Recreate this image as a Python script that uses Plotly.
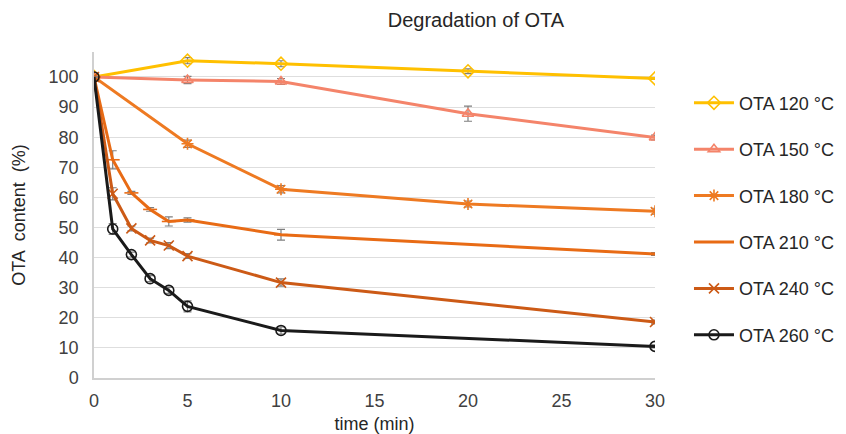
import plotly.graph_objects as go

x_short = [0, 5, 10, 20, 30]
x_long = [0, 1, 2, 3, 4, 5, 10, 30]

y120 = [100, 105.4, 104.4, 101.9, 99.5]
e120 = [0, 1.0, 1.0, 0.8, 0.3]
y150 = [100, 99.0, 98.5, 87.8, 79.9]
e150 = [0, 1.2, 1.0, 2.5, 0.8]
y180 = [100, 77.8, 62.7, 57.8, 55.4]
e180 = [0, 1.2, 1.2, 1.0, 1.0]
y210 = [100, 72.5, 61.5, 56.0, 52.0, 52.5, 47.6, 41.2]
e210 = [0, 3.0, 0.5, 0.6, 1.5, 0.7, 1.8, 0.5]
y240 = [100, 61.2, 49.7, 45.7, 44.0, 40.5, 31.7, 18.6]
e240 = [0, 2.0, 0.8, 0.8, 1.0, 0.8, 1.2, 0.6]
y260 = [100, 49.5, 41.0, 33.0, 29.1, 23.8, 15.8, 10.5]
e260 = [0, 1.8, 0.8, 1.0, 1.0, 1.8, 1.2, 0.5]

series = [
    ("OTA 120 °C", x_short, y120, e120, "#FFC000", "diamond-open"),
    ("OTA 150 °C", x_short, y150, e150, "#F4846A", "triangle-up-open"),
    ("OTA 180 °C", x_short, y180, e180, "#EE7A22", "asterisk-open"),
    ("OTA 210 °C", x_long, y210, e210, "#E86B15", "line-ew-open"),
    ("OTA 240 °C", x_long, y240, e240, "#CC5A16", "x-thin-open"),
    ("OTA 260 °C", x_long, y260, e260, "#1A1A1A", "circle-open"),
]

fig = go.Figure()
for i, (name, xs, ys, es, col, sym) in enumerate(series):
    fig.add_trace(go.Scatter(
        x=xs, y=ys, name=name, mode="lines+markers",
        legendgroup=f"g{i}",
        line=dict(color=col, width=3),
        marker=dict(symbol=sym, size=10, color=col, line=dict(color=col, width=1.6)),
        error_y=dict(type="data", array=es, visible=True, color="#7f7f7f",
                     thickness=1.2, width=4),
    ))

fig.update_layout(
    width=846, height=434,
    margin=dict(l=94, r=191, t=52, b=56),
    paper_bgcolor="white", plot_bgcolor="white",
    font=dict(family="Arial, Liberation Sans, sans-serif", color="#404040", size=18),
    title=dict(text="Degradation of OTA", x=0.5626, xanchor="center", y=0.953,
               yanchor="middle", font=dict(size=20, color="#262626")),
    showlegend=True,
    legend=dict(x=0.8144, xanchor="left", xref="container", y=0.90, yanchor="top",
                font=dict(size=18, color="#262626"), tracegroupgap=20,
                itemwidth=40, bgcolor="rgba(0,0,0,0)", borderwidth=0),
    xaxis=dict(range=[0, 30], tickvals=[0, 5, 10, 15, 20, 25, 30],
               showgrid=False, zeroline=False, showline=True,
               linecolor="#d0d0d0", linewidth=1.5, ticks="",
               ticklabelstandoff=6,
               tickfont=dict(size=18, color="#404040"), automargin=False,
               title=dict(text="time (min)", font=dict(size=18, color="#262626"), standoff=7)),
    yaxis=dict(range=[0, 108.3], tickvals=list(range(0, 101, 10)),
               showgrid=True, gridcolor="#dedede", gridwidth=1.2,
               zeroline=False, showline=True, linecolor="#d0d0d0", linewidth=1.5,
               ticks="", ticklabelstandoff=10, automargin=False,
               tickfont=dict(size=18, color="#404040"),
               title=dict(text="OTA  content  (%)", font=dict(size=18, color="#262626"), standoff=18)),
)

fig.write_html("out.html")
